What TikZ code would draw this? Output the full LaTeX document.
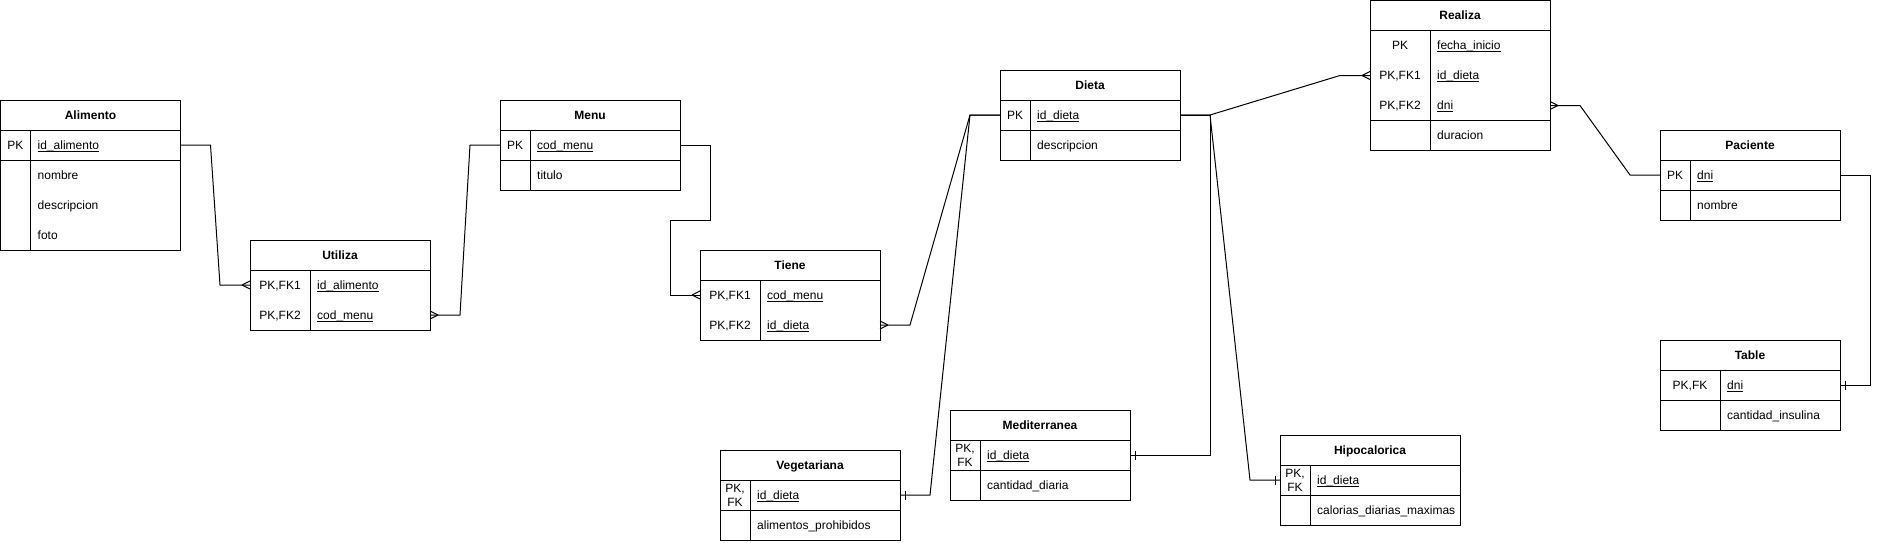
\documentclass[tikz,border=0pt]{standalone}
\usepackage{fontspec}
\setmainfont{Liberation Sans}
\usetikzlibrary{calc}
\newcommand\keyfld[1]{\setbox0\hbox{#1}\rlap{\rule[-2.2pt]{\wd0}{0.8pt}}\box0}
\tikzset{
 ln/.style={line width=1pt, black},
 rowbox/.style={minimum width=180pt, minimum height=30pt, anchor=north west, inner sep=0pt, outer sep=0pt},
 ttltxt/.style={inner sep=0pt, anchor=base, font=\bfseries\fontsize{12}{14}\selectfont},
 keytxt/.style={inner sep=0pt, anchor=base, font=\fontsize{12}{14}\selectfont},
 fldtxt/.style={inner sep=0pt, anchor=base west, font=\fontsize{12}{14}\selectfont},
}
% name, x, y, keyw, title, nrows, nkeys
\newcommand\ent[7]{%
 \node[rowbox] (#1) at (#2,#3) {};
 \node[ttltxt] (#1-t) at ({#2+90},{#3+19.3}) {#5};
 \draw[ln] (#2,#3) rectangle ({#2+180},{#3+30+30*#6});
 \draw[ln] (#2,{#3+30}) -- ++(180,0);
 \draw[ln] ({#2+#4},{#3+30}) -- ({#2+#4},{#3+30+30*#6});
 \draw[ln] (#2,{#3+30+30*#7}) -- ++(180,0);
}
% name, x, y(row top), keyw, key, field
\newcommand\erow[6]{%
 \node[rowbox] (#1) at (#2,#3) {};
 \node[keytxt] (#1-k) at ({#2+#4/2},{#3+19.3}) {#5};
 \node[fldtxt] (#1-f) at ({#2+#4+7},{#3+19.3}) {#6};
}
\newcommand\erowtwo[4]{%
 \node[rowbox] (#1) at (#2,#3) {};
 \node[keytxt] (#1-k) at ({#2+15},{#3+12.9}) {PK,};
 \node[keytxt] (#1-k2) at ({#2+15},{#3+26.6}) {FK};
 \node[fldtxt] (#1-f) at ({#2+37},{#3+19.3}) {#4};
}
\newcommand\crowL[1]{\draw[ln] ($(#1)+(-8,0)$) -- ($(#1)+(0,-4)$) ($(#1)+(-8,0)$) -- ($(#1)+(0,4)$);}
\newcommand\crowR[1]{\draw[ln] ($(#1)+(8,0)$) -- ($(#1)+(0,-4)$) ($(#1)+(8,0)$) -- ($(#1)+(0,4)$);}
\newcommand\oneL[1]{\draw[ln] ($(#1)+(-5,-4.5)$) -- ($(#1)+(-5,4.5)$);}
\newcommand\oneR[1]{\draw[ln] ($(#1)+(5,-4.5)$) -- ($(#1)+(5,4.5)$);}
\begin{document}
\begin{tikzpicture}[x=1pt,y=-1pt]
\fill[white] (0,0) rectangle (1880,542);
\useasboundingbox (0,0) rectangle (1880,542);

% Alimento
\ent{alim}{0.5}{100}{30}{Alimento}{4}{1}
\erow{alim1}{0.5}{130}{30}{PK}{\keyfld{id\_alimento}}
\erow{alim2}{0.5}{160}{30}{}{nombre}
\erow{alim3}{0.5}{190}{30}{}{descripcion}
\erow{alim4}{0.5}{220}{30}{}{foto}

% Utiliza
\ent{ut}{250}{240}{60}{Utiliza}{2}{2}
\erow{ut1}{250}{270}{60}{PK,FK1}{\keyfld{id\_alimento}}
\erow{ut2}{250}{300}{60}{PK,FK2}{\keyfld{cod\_menu}}

% Menu
\ent{menu}{500}{100}{30}{Menu}{2}{1}
\erow{menu1}{500}{130}{30}{PK}{\keyfld{cod\_menu}}
\erow{menu2}{500}{160}{30}{}{titulo}

% Tiene
\ent{tiene}{700}{250}{60}{Tiene}{2}{2}
\erow{tiene1}{700}{280}{60}{PK,FK1}{\keyfld{cod\_menu}}
\erow{tiene2}{700}{310}{60}{PK,FK2}{\keyfld{id\_dieta}}

% Dieta
\ent{dieta}{1000}{70}{30}{Dieta}{2}{1}
\erow{dieta1}{1000}{100}{30}{PK}{\keyfld{id\_dieta}}
\erow{dieta2}{1000}{130}{30}{}{descripcion}

% Realiza
\ent{real}{1370}{0.5}{60}{Realiza}{4}{3}
\erow{real1}{1370}{30.5}{60}{PK}{\keyfld{fecha\_inicio}}
\erow{real2}{1370}{60.5}{60}{PK,FK1}{\keyfld{id\_dieta}}
\erow{real3}{1370}{90.5}{60}{PK,FK2}{\keyfld{dni}}
\erow{real4}{1370}{120.5}{60}{}{duracion}

% Paciente
\ent{pac}{1660}{130}{30}{Paciente}{2}{1}
\erow{pac1}{1660}{160}{30}{PK}{\keyfld{dni}}
\erow{pac2}{1660}{190}{30}{}{nombre}

% Table
\ent{tab}{1660}{340}{60}{Table}{2}{1}
\erow{tab1}{1660}{370}{60}{PK,FK}{\keyfld{dni}}
\erow{tab2}{1660}{400}{60}{}{cantidad\_insulina}

% Vegetariana
\ent{veg}{720}{450}{30}{Vegetariana}{2}{1}
\erowtwo{veg1}{720}{480}{\keyfld{id\_dieta}}
\erow{veg2}{720}{510}{30}{}{alimentos\_prohibidos}

% Mediterranea
\ent{med}{950}{410}{30}{Mediterranea}{2}{1}
\erowtwo{med1}{950}{440}{\keyfld{id\_dieta}}
\erow{med2}{950}{470}{30}{}{cantidad\_diaria}

% Hipocalorica
\ent{hipo}{1280}{435}{30}{Hipocalorica}{2}{1}
\erowtwo{hipo1}{1280}{465}{\keyfld{id\_dieta}}
\erow{hipo2}{1280}{495}{30}{}{calorias\_diarias\_maximas}

% connectors
\draw[ln] (alim1.east) -- ++(30,0) -- ($(ut1.west)+(-30,0)$) -- (ut1.west);
\crowL{ut1.west}
\draw[ln] (ut2.east) -- ++(30,0) -- ($(menu1.west)+(-30,0)$) -- (menu1.west);
\crowR{ut2.east}
\draw[ln] (menu1.east) -- ++(30,0) -- ++(0,75) -- ($(tiene1.west)+(-30,-75)$) -- ($(tiene1.west)+(-30,0)$) -- (tiene1.west);
\crowL{tiene1.west}
\draw[ln] (tiene2.east) -- ++(30,0) -- ($(dieta1.west)+(-30,0)$) -- (dieta1.west);
\crowR{tiene2.east}
\draw[ln] (veg1.east) -- ++(30,0) -- ($(dieta1.west)+(-30,0)$) -- (dieta1.west);
\oneR{veg1.east}
\draw[ln] (dieta1.east) -- ++(30,0) -- ($(med1.east)+(80,0)$) -- (med1.east);
\oneR{med1.east}
\draw[ln] (dieta1.east) -- ++(30,0) -- ($(hipo1.west)+(-30,0)$) -- (hipo1.west);
\oneL{hipo1.west}
\draw[ln] (dieta1.east) -- ++(30,0) -- ($(real2.west)+(-30,0)$) -- (real2.west);
\crowL{real2.west}
\draw[ln] (real3.east) -- ++(30,0) -- ($(pac1.west)+(-30,0)$) -- (pac1.west);
\crowR{real3.east}
\draw[ln] (pac1.east) -- ++(30,0) -- ($(tab1.east)+(30,0)$) -- (tab1.east);
\oneR{tab1.east}
\end{tikzpicture}
\end{document}
